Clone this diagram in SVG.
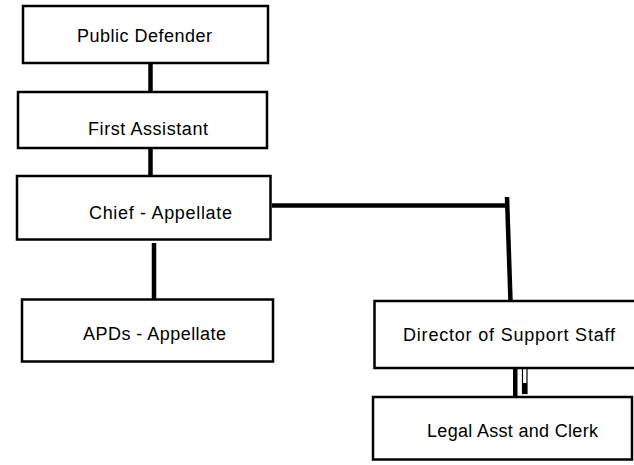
<svg xmlns="http://www.w3.org/2000/svg" width="634" height="465" viewBox="0 0 634 465">
  <style>
    .box { fill: #ffffff; stroke: #000000; stroke-width: 2.5; }
    .label { font-family: "Liberation Sans", Arial, sans-serif; font-size: 18px; fill: #000000; }
    .link { stroke: #000000; stroke-width: 4.5; fill: none; }
  </style>
  <rect width="634" height="465" fill="#ffffff"/>

  <!-- connectors -->
  <g id="connectors">
    <line class="link" x1="150.5" y1="63" x2="150.5" y2="92"/>
    <line class="link" x1="150.5" y1="148" x2="150.5" y2="176"/>
    <line class="link" x1="154" y1="243" x2="154" y2="299"/>
    <line class="link" x1="272" y1="205.5" x2="508" y2="205.5"/>
    <line class="link" x1="507" y1="197" x2="510.5" y2="301"/>
    <rect x="513" y="368" width="4.5" height="30" fill="#000000"/>
    <rect x="522.5" y="365.5" width="4.5" height="28" fill="#ffffff" stroke="#000000" stroke-width="1.2"/>
    <rect x="522.5" y="383" width="4.5" height="10.5" fill="#000000"/>
  </g>

  <g id="public-defender">
    <rect class="box" x="23" y="6" width="245" height="57"/>
    <text class="label" x="77" y="42" textLength="135">Public Defender</text>
  </g>

  <g id="first-assistant">
    <rect class="box" x="18" y="92" width="249" height="56"/>
    <text class="label" x="88" y="135" textLength="120">First Assistant</text>
  </g>

  <g id="chief-appellate">
    <rect class="box" x="17" y="176" width="253.5" height="63.5"/>
    <text class="label" x="89" y="219" textLength="143">Chief - Appellate</text>
  </g>

  <g id="apds-appellate">
    <rect class="box" x="22" y="299.5" width="251" height="62"/>
    <text class="label" x="83" y="340" textLength="143">APDs - Appellate</text>
  </g>

  <g id="director-support-staff">
    <rect class="box" x="374.5" y="301" width="270" height="67"/>
    <text class="label" x="403" y="341" textLength="212">Director of Support Staff</text>
  </g>

  <g id="legal-asst-clerk">
    <rect class="box" x="373" y="397" width="259" height="62.5"/>
    <text class="label" x="427" y="437" textLength="171">Legal Asst and Clerk</text>
  </g>
</svg>
